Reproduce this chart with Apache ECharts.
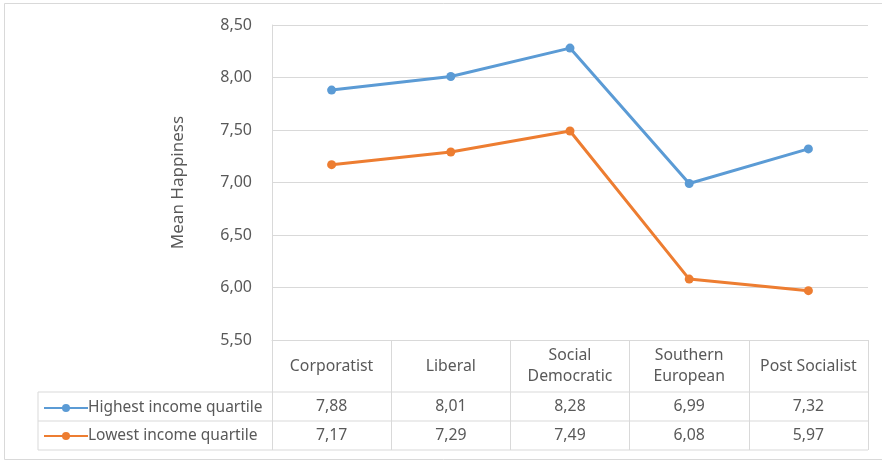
<!DOCTYPE html>
<html>
<head>
<meta charset="utf-8">
<script src="https://cdn.jsdelivr.net/npm/echarts@6/dist/echarts.min.js"></script>
<style>html,body{margin:0;padding:0;background:#fff;}#c{width:882px;height:461px;}</style>
</head>
<body>
<div id="c"></div>
<script>
var categories = ['Corporatist', 'Liberal', 'Social\nDemocratic', 'Southern\nEuropean', 'Post Socialist'];
var seriesNames = ['Highest income quartile', 'Lowest income quartile'];
var highest = [7.88, 8.01, 8.28, 6.99, 7.32];
var lowest = [7.17, 7.29, 7.49, 6.08, 5.97];
var colors = ['#5B9BD5', '#ED7D31'];
var yTicks = { min: 5.5, max: 8.5, interval: 0.5 };

var FONT = '"Noto Sans", "Open Sans", sans-serif';
var TXT = '#595959';
var GRID = '#d9d9d9';
function fmt(v) { return v.toFixed(2).replace('.', ','); }

var chart = echarts.init(document.getElementById('c'), null, { renderer: 'canvas' });
var option = {
  animation: false,
  backgroundColor: '#fff',
  textStyle: { fontFamily: FONT },
  grid: { left: 272, right: 14, top: 25, bottom: 121, containLabel: false },
  legend: {
    orient: 'vertical', left: 38, top: 395, itemGap: 12,
    itemWidth: 44, itemHeight: 10,
    textStyle: { fontFamily: FONT, fontSize: 15.5, color: TXT, padding: [0, 0, 0, -5] },
    data: seriesNames
  },
  xAxis: {
    type: 'category', data: categories, boundaryGap: true,
    axisLine: { show: true, lineStyle: { color: GRID, width: 1 } },
    axisTick: { show: true, length: 110, lineStyle: { color: GRID, width: 1 } },
    axisLabel: { color: TXT, fontSize: 15.8, fontFamily: FONT, margin: 26, verticalAlign: 'middle', lineHeight: 21, interval: 0 }
  },
  yAxis: {
    type: 'value', min: yTicks.min, max: yTicks.max, interval: yTicks.interval,
    name: 'Mean Happiness', nameLocation: 'middle', nameGap: 85, nameRotate: 90,
    nameTextStyle: { color: TXT, fontSize: 17, fontFamily: FONT },
    axisLine: { show: true, lineStyle: { color: GRID, width: 1 } },
    axisTick: { show: false },
    splitLine: { show: true, lineStyle: { color: GRID, width: 1 } },
    axisLabel: { color: TXT, fontSize: 16, fontFamily: FONT, margin: 20, formatter: function (v) { return fmt(v); } }
  },
  series: [
    { name: seriesNames[0], type: 'line', data: highest, symbol: 'circle', symbolSize: 9,
      itemStyle: { color: colors[0] }, lineStyle: { color: colors[0], width: 3 } },
    { name: seriesNames[1], type: 'line', data: lowest, symbol: 'circle', symbolSize: 9,
      itemStyle: { color: colors[1] }, lineStyle: { color: colors[1], width: 3 } }
  ]
};
chart.setOption(option);

// Data table built from the arrays via the axis scale
var bottomY = chart.convertToPixel({ yAxisIndex: 0 }, yTicks.min);
var rightX = 882 - 14;
var row1 = bottomY + 52, row2 = row1 + 29, row3 = row2 + 29;
var g = [
  { type: 'rect', shape: { x: 4.5, y: 3.5, width: 900, height: 456 }, style: { fill: 'none', stroke: GRID, lineWidth: 1 }, silent: true },
  { type: 'line', shape: { x1: 38, y1: row1, x2: rightX, y2: row1 }, style: { stroke: GRID, lineWidth: 1 } },
  { type: 'line', shape: { x1: 38, y1: row2, x2: rightX, y2: row2 }, style: { stroke: GRID, lineWidth: 1 } },
  { type: 'line', shape: { x1: 38, y1: row3, x2: rightX, y2: row3 }, style: { stroke: GRID, lineWidth: 1 } },
  { type: 'line', shape: { x1: 38, y1: row1, x2: 38, y2: row3 }, style: { stroke: GRID, lineWidth: 1 } }
];
[highest, lowest].forEach(function (arr, r) {
  arr.forEach(function (v, i) {
    var x = chart.convertToPixel({ xAxisIndex: 0 }, i);
    g.push({ type: 'text', x: x, y: (r === 0 ? (row1 + row2) / 2 : (row2 + row3) / 2),
      style: { text: fmt(v), fill: TXT, font: '15.8px ' + FONT, textAlign: 'center', textVerticalAlign: 'middle' } });
  });
});
chart.setOption({ graphic: g });
</script>
</body>
</html>
